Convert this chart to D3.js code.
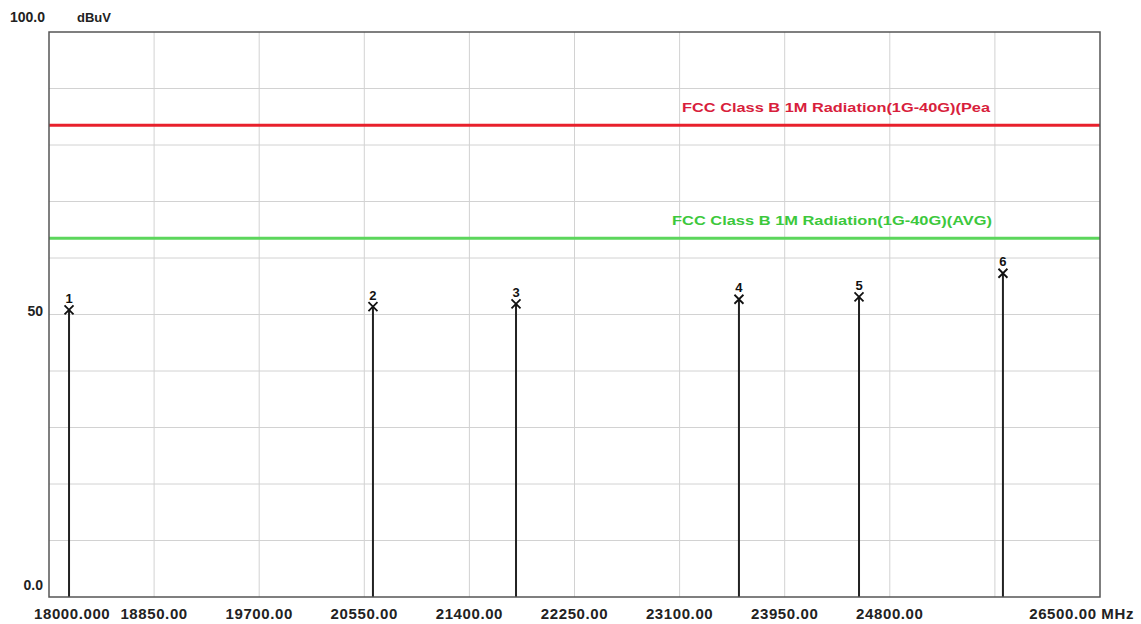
<!DOCTYPE html>
<html>
<head>
<meta charset="utf-8">
<script src="https://cdn.jsdelivr.net/npm/d3@7"></script>
<style>
  html, body { margin: 0; padding: 0; background: #fff; }
  svg { display: block; }
  text { font-family: "Liberation Sans", Arial, sans-serif; }
</style>
</head>
<body>
<svg id="chart" width="1141" height="624"></svg>
<script>
// ---- data ----
const markerIds = ["1", "2", "3", "4", "5", "6"];
const markerFreqs = [18162, 20620, 21777, 23580, 24551, 25715];   // MHz
const markerLevels = [50.8, 51.4, 51.9, 52.7, 53.1, 57.3];        // dBuV
const xTicks = [18000, 18850, 19700, 20550, 21400, 22250, 23100, 23950, 24800, 25650, 26500];
const xTickLabels = ["18000.000", "18850.00", "19700.00", "20550.00", "21400.00", "22250.00", "23100.00", "23950.00", "24800.00", "", "26500.00 MHz"];
const yGrid = [10, 20, 30, 40, 50, 60, 70, 80, 90];
const yLabelValues = [100, 50, 0];
const yLabels = ["100.0", "50", "0.0"];
const limitNames = ["FCC Class B 1M Radiation(1G-40G)(Pea", "FCC Class B 1M Radiation(1G-40G)(AVG)"];
const limitLevels = [83.5, 63.5];

// ---- layout ----
const svg = d3.select("#chart");
const L = 49, R = 1100, T = 32, B = 597;
const x = d3.scaleLinear().domain([18000, 26500]).range([L, R]);
const y = d3.scaleLinear().domain([0, 100]).range([B, T]);

// grid
svg.append("g").selectAll("line").data(yGrid).join("line")
  .attr("x1", L).attr("x2", R)
  .attr("y1", d => y(d)).attr("y2", d => y(d))
  .attr("stroke", "#d2d2d2").attr("stroke-width", 1);
svg.append("g").selectAll("line").data(xTicks.slice(1, -1)).join("line")
  .attr("x1", d => x(d)).attr("x2", d => x(d))
  .attr("y1", T).attr("y2", B)
  .attr("stroke", "#d2d2d2").attr("stroke-width", 1);

// limit lines
const limitColors = ["#e8202c", "#5cd65c"];
const limitTextColors = ["#d81e3c", "#3cc83c"];
const limitTextX = [682, 672];
const limitTextW = [308, 320];
limitLevels.forEach((v, i) => {
  svg.append("line")
    .attr("x1", L).attr("x2", R)
    .attr("y1", y(v)).attr("y2", y(v))
    .attr("stroke", limitColors[i]).attr("stroke-width", 3);
  svg.append("text")
    .attr("x", limitTextX[i]).attr("y", y(v) - 13)
    .attr("fill", limitTextColors[i])
    .attr("font-size", 12).attr("font-weight", "bold")
    .attr("textLength", limitTextW[i]).attr("lengthAdjust", "spacingAndGlyphs")
    .text(limitNames[i]);
});

// stems and markers
const markers = markerIds.map((id, i) => ({ id, f: markerFreqs[i], v: markerLevels[i] }));
svg.append("g").selectAll("line").data(markers).join("line")
  .attr("x1", d => x(d.f)).attr("x2", d => x(d.f))
  .attr("y1", d => y(d.v)).attr("y2", B)
  .attr("stroke", "#222").attr("stroke-width", 2);
const mg = svg.append("g").selectAll("g").data(markers).join("g")
  .attr("transform", d => `translate(${x(d.f)},${y(d.v)})`);
mg.append("path")
  .attr("d", "M-4.5,-4.5L4.5,4.5M-4.5,4.5L4.5,-4.5")
  .attr("stroke", "#111").attr("stroke-width", 1.8).attr("fill", "none");
mg.append("text")
  .attr("x", 0).attr("y", -7)
  .attr("text-anchor", "middle")
  .attr("font-size", 13).attr("font-weight", "bold").attr("fill", "#111")
  .text(d => d.id);

// frame
svg.append("rect")
  .attr("x", L).attr("y", T).attr("width", R - L).attr("height", B - T)
  .attr("fill", "none").attr("stroke", "#555").attr("stroke-width", 1.5);

// x tick labels
svg.append("g").selectAll("text").data(xTicks.map((t, i) => ({ t, s: xTickLabels[i], i }))).join("text")
  .attr("x", d => d.i === 0 ? x(d.t) - 15 : (d.i === xTicks.length - 1 ? 1134 : x(d.t)))
  .attr("y", 619)
  .attr("text-anchor", d => d.i === 0 ? "start" : (d.i === xTicks.length - 1 ? "end" : "middle"))
  .attr("font-size", 15).attr("font-weight", "bold").attr("fill", "#222")
  .attr("letter-spacing", 0.6)
  .text(d => d.s);

// y labels
svg.append("g").selectAll("text").data(yLabelValues.map((v, i) => ({ v, s: yLabels[i] }))).join("text")
  .attr("x", d => d.v === 100 ? 10 : 43)
  .attr("y", d => d.v === 100 ? 22 : y(d.v) + (d.v === 0 ? -7 : 1))
  .attr("text-anchor", d => d.v === 100 ? "start" : "end")
  .attr("font-size", 14).attr("font-weight", "bold").attr("fill", "#222")
  .text(d => d.s);
svg.append("text")
  .attr("x", 77).attr("y", 22)
  .attr("font-size", 13).attr("font-weight", "bold").attr("fill", "#222")
  .text("dBuV");
</script>
</body>
</html>
